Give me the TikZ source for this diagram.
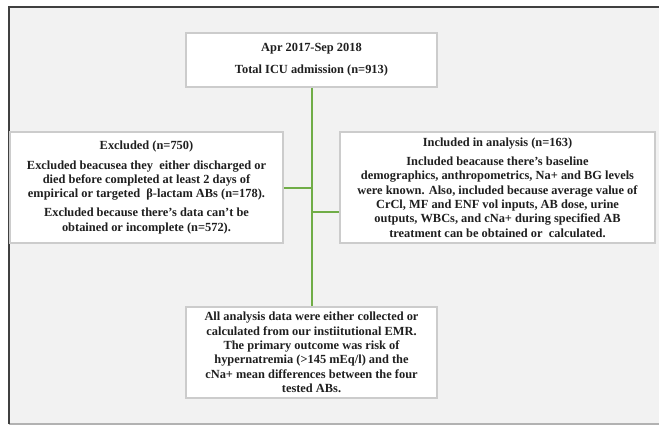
\documentclass[tikz,border=0pt]{standalone}
\usepackage{fontspec}
\setmainfont{Liberation Serif}
\definecolor{flowgreen}{RGB}{112,173,71}
\definecolor{panelgray}{RGB}{242,242,242}
\begin{document}
\begin{tikzpicture}[x=1pt, y=-1pt, font=\bfseries\fontsize{12.4}{14.3}\selectfont,
	box/.style={draw=gray!40, line width=1.5pt, fill=white, align=center, inner sep=0pt, text=black!88},
	link/.style={draw=flowgreen, line width=2pt}]
	\useasboundingbox (0,0) rectangle (659,426);
	\fill[panelgray] (9,6) rectangle (659,424);
	\draw[gray!60, line width=1.2pt] (9,424) -- (659,424);
	\draw[black!75, line width=2pt] (8.5,424) -- (8.5,6.5) -- (659,6.5);
	\node[box, minimum width=251pt, minimum height=54pt] (total) at (311.5,60) {Apr 2017-Sep 2018\\[8pt] Total ICU admission (n=913)};
	\node[box, minimum width=273pt, minimum height=111pt] (excluded) at (146.5,187.5) {Excluded (n=750)\\[5pt]
		Excluded beacusea they\ \ either discharged or\\
		died before completed at least 2 days of\\
		empirical or targeted\ \ β-lactam ABs (n=178).\\[5pt]
		Excluded because there's data can't be\\
		obtained or incomplete (n=572).};
	\node[box, minimum width=315pt, minimum height=111pt] (included) at (497.5,187.5) {Included in analysis (n=163)\\[5pt]
		Included beacause there's baseline\\
		demographics, anthropometrics, Na+ and BG levels\\
		were known. Also, included because average value of\\
		CrCl, MF and ENF vol inputs, AB dose, urine\\
		outputs, WBCs, and cNa+ during specified\ AB\\
		treatment can be obtained or\ \ calculated.};
	\node[box, minimum width=251pt, minimum height=91pt] (summary) at (311.5,352.5) {All analysis data were\ either collected or\\
		calculated from our instiitutional EMR.\\
		The primary outcome was risk of\\
		hypernatremia (>145 mEq/l) and the\\
		cNa+ mean differences\ between the four\\
		tested ABs.};
	\draw[link] (total) -- (summary);
	\draw[link] (excluded.east) -- (excluded.east -| total.south);
	\coordinate (inlink) at ([yshift=-24pt]included.west);
	\draw[link] (inlink -| total.south) -- (inlink);
\end{tikzpicture}
\end{document}
